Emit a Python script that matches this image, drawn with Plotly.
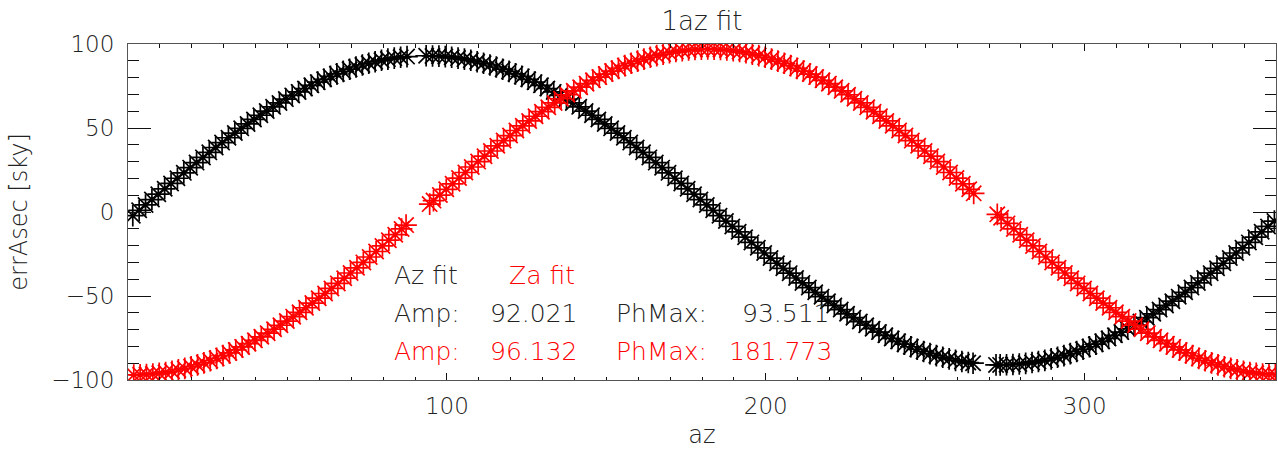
import plotly.graph_objects as go

# Azimuth fit samples: x = az (deg), y = errAsec on the sky. None = no sample.
az_black = [
    1.5, 3.5, 5.5, 7.5, 9.5, 11.5, 13.5, 15.5, 17.5, 19.5,
    21.5, 23.5, 25.5, 27.5, 29.5, 31.5, 33.5, 35.5, 37.5, 39.5,
    41.5, 43.5, 45.5, 47.5, 49.5, 51.5, 53.5, 55.5, 57.5, 59.5,
    61.5, 63.5, 65.5, 67.5, 69.5, 71.5, 73.5, 75.5, 77.5, 79.5,
    81.5, 83.5, 85.5, 87.5, 89.5, 91.5, 93.5, 95.5, 97.5, 99.5,
    101.5, 103.5, 105.5, 107.5, 109.5, 111.5, 113.5, 115.5, 117.5, 119.5,
    121.5, 123.5, 125.5, 127.5, 129.5, 131.5, 133.5, 135.5, 137.5, 139.5,
    141.5, 143.5, 145.5, 147.5, 149.5, 151.5, 153.5, 155.5, 157.5, 159.5,
    161.5, 163.5, 165.5, 167.5, 169.5, 171.5, 173.5, 175.5, 177.5, 179.5,
    181.5, 183.5, 185.5, 187.5, 189.5, 191.5, 193.5, 195.5, 197.5, 199.5,
    201.5, 203.5, 205.5, 207.5, 209.5, 211.5, 213.5, 215.5, 217.5, 219.5,
    221.5, 223.5, 225.5, 227.5, 229.5, 231.5, 233.5, 235.5, 237.5, 239.5,
    241.5, 243.5, 245.5, 247.5, 249.5, 251.5, 253.5, 255.5, 257.5, 259.5,
    261.5, 263.5, 265.0, 267.5, 269.5, 272.2, 273.5, 275.5, 277.5, 279.5,
    281.5, 283.5, 285.5, 287.5, 289.5, 291.5, 293.5, 295.5, 297.5, 299.5,
    301.5, 303.5, 305.5, 307.5, 309.5, 311.5, 313.5, 315.5, 317.5, 319.5,
    321.5, 323.5, 325.5, 327.5, 329.5, 331.5, 333.5, 335.5, 337.5, 339.5,
    341.5, 343.5, 345.5, 347.5, 349.5, 351.5, 353.5, 355.5, 357.5, 359.5,
]
err_black = [
    -2.2, 1.0, 4.2, 7.4, 10.6, 13.8, 17.0, 20.1, 23.3, 26.4,
    29.4, 32.5, 35.5, 38.4, 41.3, 44.2, 47.0, 49.8, 52.4, 55.1,
    57.6, 60.1, 62.6, 64.9, 67.2, 69.4, 71.5, 73.5, 75.4, 77.3,
    79.0, 80.7, 82.2, 83.7, 85.0, 86.3, 87.5, 88.5, 89.4, 90.3,
    91.0, 91.6, 92.1, 92.5, None, None, 93.0, 92.9, 92.8, 92.5,
    92.1, 91.6, 91.0, 90.3, 89.4, 88.5, 87.5, 86.3, 85.0, 83.7,
    82.2, 80.7, 79.0, 77.3, 75.4, 73.5, 71.5, 69.4, 67.2, 64.9,
    62.6, 60.1, 57.6, 55.1, 52.4, 49.8, 47.0, 44.2, 41.3, 38.4,
    35.5, 32.5, 29.4, 26.4, 23.3, 20.1, 17.0, 13.8, 10.6, 7.4,
    4.2, 1.0, -2.2, -5.4, -8.6, -11.8, -15.0, -18.1, -21.3, -24.4,
    -27.4, -30.5, -33.5, -36.4, -39.3, -42.2, -45.0, -47.8, -50.4, -53.1,
    -55.6, -58.1, -60.6, -62.9, -65.2, -67.4, -69.5, -71.5, -73.4, -75.3,
    -77.0, -78.7, -80.2, -81.7, -83.0, -84.3, -85.5, -86.5, -87.4, -88.3,
    -89.0, -89.6, -90.0, None, None, -91.0, -91.0, -90.9, -90.8, -90.5,
    -90.1, -89.6, -89.0, -88.3, -87.4, -86.5, -85.5, -84.3, -83.0, -81.7,
    -80.2, -78.7, -77.0, -75.3, -73.4, -71.5, -69.5, -67.4, -65.2, -62.9,
    -60.6, -58.1, -55.6, -53.1, -50.4, -47.8, -45.0, -42.2, -39.3, -36.4,
    -33.5, -30.5, -27.4, -24.4, -21.3, -18.1, -15.0, -11.8, -8.6, -5.4,
]

az_red = [
    1.8, 3.8, 5.8, 7.8, 9.8, 11.8, 13.8, 15.8, 17.8, 19.8,
    21.8, 23.8, 25.8, 27.8, 29.8, 31.8, 33.8, 35.8, 37.8, 39.8,
    41.8, 43.8, 45.8, 47.8, 49.8, 51.8, 53.8, 55.8, 57.8, 59.8,
    61.8, 63.8, 65.8, 67.8, 69.8, 71.8, 73.8, 75.8, 77.8, 79.8,
    81.8, 83.8, 85.8, 87.2, 89.8, 91.8, 94.6, 95.8, 97.8, 99.8,
    101.8, 103.8, 105.8, 107.8, 109.8, 111.8, 113.8, 115.8, 117.8, 119.8,
    121.8, 123.8, 125.8, 127.8, 129.8, 131.8, 133.8, 135.8, 137.8, 139.8,
    141.8, 143.8, 145.8, 147.8, 149.8, 151.8, 153.8, 155.8, 157.8, 159.8,
    161.8, 163.8, 165.8, 167.8, 169.8, 171.8, 173.8, 175.8, 177.8, 179.8,
    181.8, 183.8, 185.8, 187.8, 189.8, 191.8, 193.8, 195.8, 197.8, 199.8,
    201.8, 203.8, 205.8, 207.8, 209.8, 211.8, 213.8, 215.8, 217.8, 219.8,
    221.8, 223.8, 225.8, 227.8, 229.8, 231.8, 233.8, 235.8, 237.8, 239.8,
    241.8, 243.8, 245.8, 247.8, 249.8, 251.8, 253.8, 255.8, 257.8, 259.8,
    261.8, 263.8, 265.2, 267.8, 269.8, 272.6, 273.8, 275.8, 277.8, 279.8,
    281.8, 283.8, 285.8, 287.8, 289.8, 291.8, 293.8, 295.8, 297.8, 299.8,
    301.8, 303.8, 305.8, 307.8, 309.8, 311.8, 313.8, 315.8, 317.8, 319.8,
    321.8, 323.8, 325.8, 327.8, 329.8, 331.8, 333.8, 335.8, 337.8, 339.8,
    341.8, 343.8, 345.8, 347.8, 349.8, 351.8, 353.8, 355.8, 357.8, 359.8,
]
err_red = [
    -97.0, -96.9, -96.7, -96.4, -96.0, -95.5, -94.8, -94.0, -93.1, -92.1,
    -91.0, -89.8, -88.5, -87.1, -85.5, -83.9, -82.1, -80.3, -78.4, -76.4,
    -74.3, -72.1, -69.8, -67.4, -64.9, -62.3, -59.7, -57.0, -54.2, -51.3,
    -48.5, -45.5, -42.5, -39.4, -36.3, -33.2, -30.0, -26.8, -23.5, -20.2,
    -16.8, -13.5, -10.1, -7.8, None, None, 4.7, 6.8, 10.1, 13.5,
    16.8, 20.2, 23.5, 26.8, 30.0, 33.2, 36.3, 39.4, 42.5, 45.5,
    48.5, 51.3, 54.2, 57.0, 59.7, 62.3, 64.9, 67.4, 69.8, 72.1,
    74.3, 76.4, 78.4, 80.3, 82.1, 83.9, 85.5, 87.1, 88.5, 89.8,
    91.0, 92.1, 93.1, 94.0, 94.8, 95.5, 96.0, 96.4, 96.7, 96.9,
    97.0, 96.9, 96.7, 96.4, 96.0, 95.5, 94.8, 94.0, 93.1, 92.1,
    91.0, 89.8, 88.5, 87.1, 85.5, 83.9, 82.1, 80.3, 78.4, 76.4,
    74.3, 72.1, 69.8, 67.4, 64.9, 62.3, 59.7, 57.0, 54.2, 51.3,
    48.5, 45.5, 42.5, 39.4, 36.3, 33.2, 30.0, 26.8, 23.5, 20.2,
    16.8, 13.5, 11.1, None, None, -1.4, -3.4, -6.8, -10.1, -13.5,
    -16.8, -20.2, -23.5, -26.8, -30.0, -33.2, -36.3, -39.4, -42.5, -45.5,
    -48.5, -51.3, -54.2, -57.0, -59.7, -62.3, -64.9, -67.4, -69.8, -72.1,
    -74.3, -76.4, -78.4, -80.3, -82.1, -83.9, -85.5, -87.1, -88.5, -89.8,
    -91.0, -92.1, -93.1, -94.0, -94.8, -95.5, -96.0, -96.4, -96.7, -96.9,
]

x_ticks = [100, 200, 300]
y_ticks = [-100, -50, 0, 50, 100]

fit_rows = [
    # (text, az position, errAsec position, colour)
    ("Az fit", 82.8, -38.0, "#222222"),
    ("Za fit", 118.8, -38.0, "#ff0000"),
    ("Amp:", 82.8, -60.7, "#222222"),
    ("92.021", 112.9, -60.7, "#222222"),
    ("PhMax:", 152.4, -60.7, "#222222"),
    ("93.511", 191.8, -60.7, "#222222"),
    ("Amp:", 82.8, -83.3, "#ff0000"),
    ("96.132", 112.9, -83.3, "#ff0000"),
    ("PhMax:", 152.4, -83.3, "#ff0000"),
    ("181.773", 187.8, -83.3, "#ff0000"),
]

FONT = "DejaVu Sans"
TXT = "#222222"

fig = go.Figure()
for xs, ys, col in ((az_black, err_black, "#000000"), (az_red, err_red, "#ff0000")):
    fig.add_trace(go.Scatter(
        x=xs, y=ys, mode="markers", cliponaxis=True, showlegend=False,
        marker=dict(symbol="asterisk-open", size=18, color=col,
                    line=dict(color=col, width=1.7)),
    ))

for text, ax_, ay_, col in fit_rows:
    fig.add_annotation(x=ax_, y=ay_, xref="x", yref="y", text=text,
                       showarrow=False, xanchor="left", yanchor="middle",
                       font=dict(family=FONT, size=25, color=col, weight=300))

axis_common = dict(
    showgrid=False, zeroline=False, showline=True, linecolor="#555555",
    linewidth=1, mirror="ticks", ticks="inside", tickcolor="#111111",
    tickfont=dict(family=FONT, size=23, color=TXT, weight=300),
)

fig.update_xaxes(
    range=[0, 360], tickvals=x_ticks, ticklen=7, tickwidth=1,
    minor=dict(dtick=10, tick0=0, ticks="inside", ticklen=3.5,
               tickcolor="#111111", tickwidth=1),
    title=dict(text="az", font=dict(family=FONT, size=24, color=TXT, weight=300),
               standoff=8),
    ticklabelstandoff=5,
    **axis_common,
)
fig.update_yaxes(
    range=[-100, 100], tickvals=y_ticks, ticklen=23, tickwidth=1,
    minor=dict(dtick=10, tick0=0, ticks="inside", ticklen=11,
               tickcolor="#111111", tickwidth=1),
    title=dict(text="errAsec [sky]", font=dict(family=FONT, size=24, color=TXT, weight=300),
               standoff=16),
    ticklabelstandoff=8,
    **axis_common,
)

fig.update_layout(
    width=1278, height=454,
    margin=dict(l=128, r=2, t=44, b=74, autoexpand=False),
    paper_bgcolor="white", plot_bgcolor="white",
    title=dict(text="1az fit", x=0.5493, xanchor="center", y=0.955, yanchor="middle",
               font=dict(family=FONT, size=26, color=TXT, weight=300)),
)

fig.write_html("out.html")
